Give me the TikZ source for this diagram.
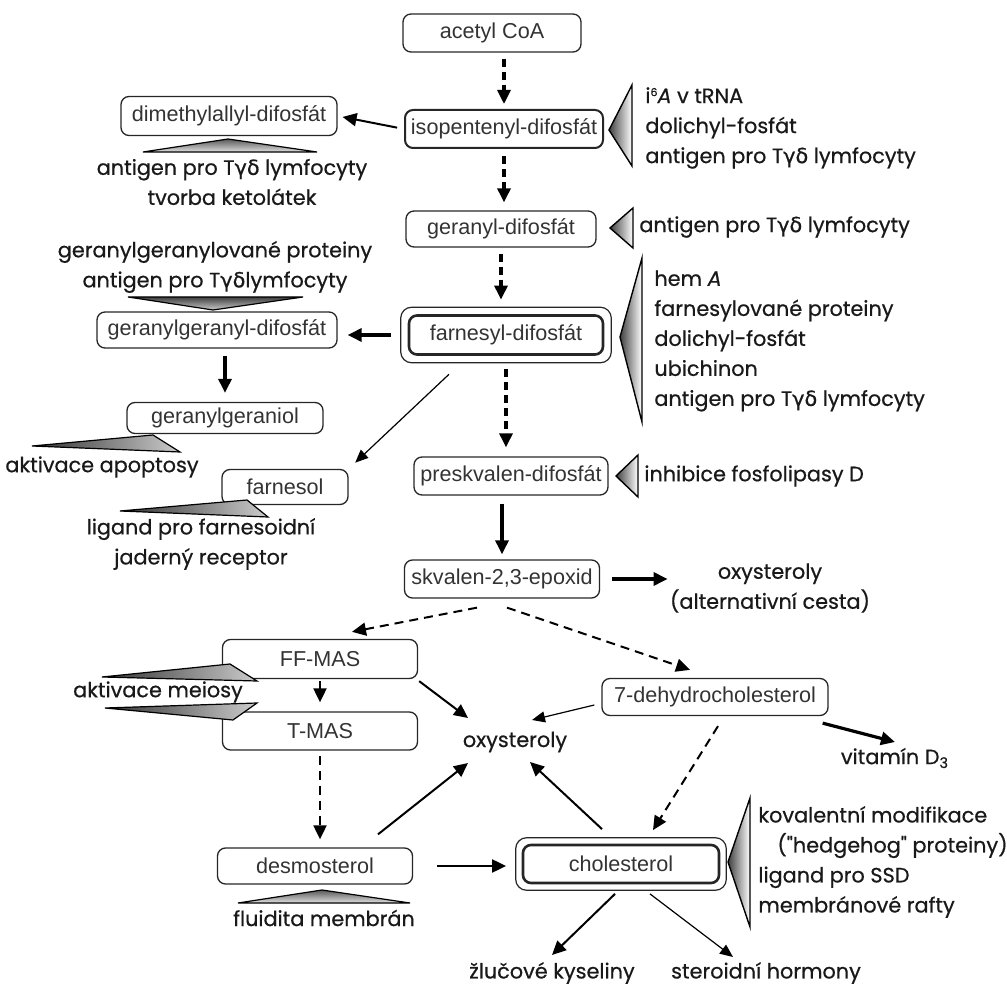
\documentclass[tikz,border=0pt]{standalone}
\usepackage{fontspec}
\setmainfont{Liberation Sans}
\newfontfamily\annotfont[FakeBold=0.6]{Poppins}
\newfontfamily\greekfont[FakeBold=0.6]{DejaVu Sans}
\newcommand{\Tgd}{T{\greekfont γδ}}
\usetikzlibrary{arrows.meta,fit}

\begin{document}
\begin{tikzpicture}[x=0.5pt, y=-0.5pt,
	box/.style={draw=black!85, rounded corners=4pt, line width=0.65pt, minimum height=19pt, inner sep=0pt, font=\fontsize{10.8}{12}\selectfont, text=black!80},
	outerbox/.style={draw=black!85, rounded corners=5.5pt, line width=0.6pt, inner sep=3.5pt},
	annot/.style={inner sep=0pt, text=black!90, font=\annotfont\fontsize{10.4}{15}\selectfont},
	arrhead/.style={-{Triangle[length=7pt,width=6.5pt]}},
	thickarr/.style={arrhead, line width=1.6pt},
	arr/.style={arrhead, line width=1pt},
	thinarr/.style={-{Triangle[length=6.5pt,width=5.5pt]}, line width=0.6pt},
	dasharr/.style={thickarr, dash pattern=on 4pt off 2.5pt},
	dasharrm/.style={arr, dash pattern=on 4.5pt off 3pt},
	wedgeR/.style={draw=black, line width=0.7pt, left color=black!75, right color=white},
	wedgeU/.style={draw=black, line width=0.6pt, top color=black!65, bottom color=gray!25},
	wedgeD/.style={draw=black, line width=0.6pt, top color=black!75, bottom color=gray!40},
	wedgeS/.style={draw=black, line width=0.6pt, left color=black!80, right color=gray!40}]
	\useasboundingbox (0,0) rectangle (1007,988);

	\node[box, minimum width=89pt] (aco) at (492,33) {acetyl CoA};
	\node[box, minimum width=99pt, line width=1pt] (ipp) at (504,129) {isopentenyl-difosfát};
	\node[box, minimum width=108pt, minimum height=19.5pt] (dma) at (229,116) {dimethylallyl-difosfát};
	\node[box, minimum width=95pt, minimum height=18pt] (gpp) at (501,229) {geranyl-difosfát};
	\node[box, minimum width=97pt, minimum height=19.5pt, line width=1.3pt] (fpp) at (506,335) {farnesyl-difosfát};
	\node[outerbox, fit=(fpp)] (fppo) {};
	\node[box, minimum width=120pt, minimum height=18pt] (ggpp) at (217,330) {geranylgeranyl-difosfát};
	\node[box, minimum width=98pt, minimum height=15.5pt] (ggol) at (225,418) {geranylgeraniol};
	\node[box, minimum width=63pt, minimum height=17.5pt] (fol) at (285,487) {farnesol};
	\node[box, minimum width=97pt] (psq) at (511,476) {preskvalen-difosfát};
	\node[box, minimum width=97.5pt] (sqe) at (502,579) {skvalen-2,3-epoxid};
	\node[box, minimum width=97.5pt, minimum height=19.5pt] (ffmas) at (320,659) {FF-MAS};
	\node[box, minimum width=97.5pt] (tmas) at (320,731) {T-MAS};
	\node[box, minimum width=113pt, minimum height=18.5pt] (dhc) at (715,697) {7-dehydrocholesterol};
	\node[box, minimum width=97.5pt, minimum height=18pt] (des) at (315,866) {desmosterol};
	\node[box, minimum width=98pt, line width=1.3pt] (chol) at (621,864) {cholesterol};
	\node[outerbox, inner sep=3pt, fit=(chol)] (cholo) {};

	\node[annot] (oxy) at (515,742) {oxysteroly};
	\node[annot, align=center] (oxyalt) at (770,588) {oxysteroly\\(alternativní cesta)};
	\node[annot] (vitd) at (895,758) {vitamín D\textsubscript{3}};
	\node[annot] (zluc) at (552,973) {žlučové kyseliny};
	\node[annot] (ster) at (766,973) {steroidní hormony};

	\draw[wedgeR] (609,130) -- (632,85) -- (632,166) -- cycle;
	\draw[wedgeR] (610,228) -- (633,208) -- (633,248) -- cycle;
	\draw[wedgeR] (620,337) -- (642,258) -- (642,422) -- cycle;
	\draw[wedgeR] (616,476) -- (638,455) -- (638,497) -- cycle;
	\draw[wedgeR] (728,862) -- (750,798) -- (750,927) -- cycle;
	\draw[wedgeU] (228,139) -- (317,152) -- (143,152) -- cycle;
	\draw[wedgeU] (322,890) -- (410,903) -- (238,903) -- cycle;
	\draw[wedgeD] (213,310) -- (128,297) -- (303,297) -- cycle;
	\draw[wedgeS] (32,446) -- (153,435) -- (180,452) -- cycle;
	\draw[wedgeS] (120,511) -- (247,500) -- (268,517) -- cycle;
	\draw[wedgeS] (102,677) -- (230,664) -- (257,681) -- cycle;
	\draw[wedgeS] (105,708) -- (257,703) -- (233,720) -- cycle;

	\node[annot, anchor=west, align=left] (ippnote) at (645,128) {i\raisebox{3.5pt}{\fontsize{5.5}{6}\selectfont 6}\textit{A} v tRNA\\dolichyl-fosfát\\antigen pro \Tgd{} lymfocyty};
	\node[annot, align=center] (dmanote) at (232,182) {antigen pro \Tgd{} lymfocyty\\tvorba ketolátek};
	\node[annot, anchor=west] (gppnote) at (639,227) {antigen pro \Tgd{} lymfocyty};
	\node[annot, align=center] (ggppnote) at (215,267) {geranylgeranylované proteiny\\antigen pro \Tgd lymfocyty};
	\node[annot, anchor=west, align=left] (fppnote) at (654,341) {hem \textit{A}\\farnesylované proteiny\\dolichyl-fosfát\\ubichinon\\antigen pro \Tgd{} lymfocyty};
	\node[annot, anchor=west] (psqnote) at (644,476) {inhibice fosfolipasy D};
	\node[annot] (ggolnote) at (102,467) {aktivace apoptosy};
	\node[annot, align=center] (folnote) at (201,544) {ligand pro farnesoidní\\jaderný receptor};
	\node[annot] (meinote) at (158,692) {aktivace meiosy};
	\node[annot] (desnote) at (324,918) {fluidita membrán};
	\node[annot, anchor=west, align=left] (cholnote) at (758,862) {kovalentní modifikace\\\hspace*{9.5pt}("hedgehog" proteiny)\\ligand pro SSD\\membránové rafty};

	\draw[dasharr, shorten <=3pt, shorten >=2.5pt] (aco.south -| ipp.north) -- (ipp.north);
	\draw[dasharr, shorten <=3.5pt, shorten >=4pt] (ipp.south) -- (ipp.south |- gpp.north);
	\draw[dasharr, shorten <=3pt, shorten >=3.5pt] (gpp.south) -- (gpp.south |- fppo.north);
	\draw[dasharr, shorten <=3pt, shorten >=4.5pt] (fppo.south) -- (fppo.south |- psq.north);
	\draw[thickarr, shorten <=4pt, shorten >=2.5pt] (sqe.north |- psq.south) -- (sqe.north);
	\draw[thickarr, shorten <=6pt, shorten >=1pt] (sqe.east) -- (sqe.east -| oxyalt.west);
	\draw[arr, shorten <=3.5pt, shorten >=2.5pt] (ipp.west) -- (dma.east);
	\draw[thickarr, shorten <=4.5pt, shorten >=5pt] (fppo.west) -- (fppo.west -| ggpp.east);
	\draw[thickarr, shorten <=3.5pt, shorten >=4.5pt] (ggol.north |- ggpp.south) -- (ggol.north);
	\draw[thinarr, shorten <=8pt, shorten >=4.5pt] (fppo.212) -- (fol.north east);
	\draw[dasharrm] ([shift={(-25,9)}]sqe.south) -- ([shift={(32,-7)}]ffmas.north);
	\draw[dasharrm] ([shift={(5,9)}]sqe.south) -- ([shift={(-25,-8)}]dhc.north);
	\draw[arr, shorten <=1pt, shorten >=4.5pt] (ffmas.south) -- (ffmas.south |- tmas.north);
	\draw[dasharrm, shorten <=2.5pt, shorten >=4pt] (tmas.south) -- (tmas.south |- des.north);
	\draw[arr] ([shift={(1,2)}]ffmas.south east) -- ([shift={(-47,-24)}]oxy.center);
	\draw[thinarr] ([shift={(-7,8)}]dhc.west) -- ([shift={(17,-22)}]oxy.center);
	\draw[arr] ([shift={(63,-13)}]des.north) -- ([shift={(-47,21)}]oxy.center);
	\draw[arr] ([shift={(-19,-8)}]cholo.north) -- ([shift={(15,20)}]oxy.center);
	\draw[dasharrm] ([shift={(3,10)}]dhc.south) -- ([shift={(32,-7)}]cholo.north);
	\draw[thickarr] ([shift={(-6,7)}]dhc.south east) -- ([shift={(0,-16)}]vitd.center);
	\draw[arr, shorten <=12pt, shorten >=4.5pt] (des.east) -- (des.east -| cholo.west);
	\draw[arr] ([shift={(-6,3)}]cholo.south) -- ([shift={(0,-18)}]zluc.center);
	\draw[thinarr] ([shift={(29,3)}]cholo.south) -- ([shift={(-33,-16)}]ster.center);
\end{tikzpicture}
\end{document}
